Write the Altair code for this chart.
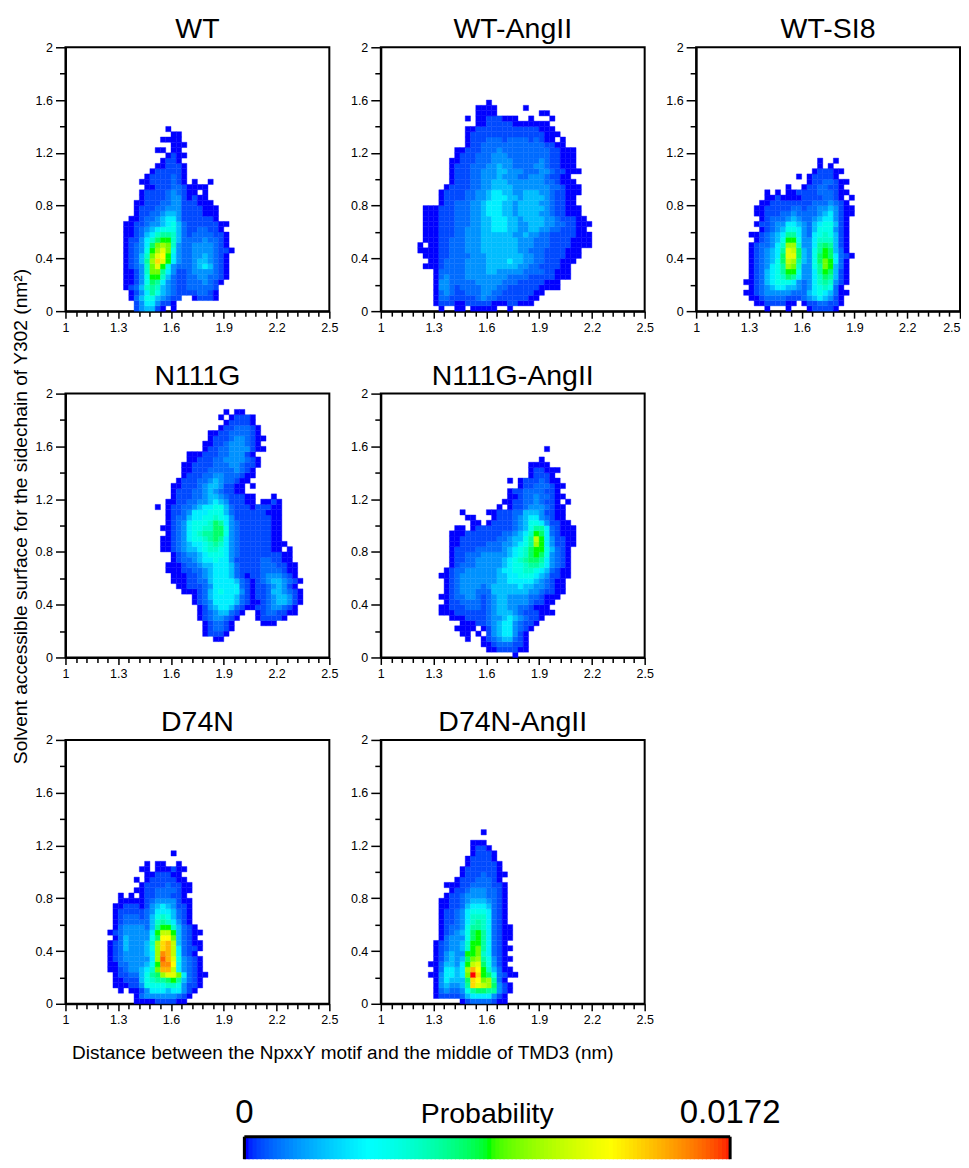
import altair as alt
import pandas as pd

FONT = "Liberation Sans"
P_MAX = 0.0172
X_MAJOR = [1, 1.3, 1.6, 1.9, 2.2, 2.5]
X_TICKS = [1, 1.06, 1.12, 1.18, 1.24, 1.3, 1.36, 1.42, 1.48, 1.54, 1.6, 1.66, 1.72, 1.78, 1.84, 1.9,
           1.96, 2.02, 2.08, 2.14, 2.2, 2.26, 2.32, 2.38, 2.44, 2.5]
Y_MAJOR = [0, 0.4, 0.8, 1.2, 1.6, 2]
Y_TICKS = [0, 0.2, 0.4, 0.6, 0.8, 1, 1.2, 1.4, 1.6, 1.8, 2]
COLORS = ["#0000ff", "#00ffff", "#00ff00", "#ffff00", "#ff0000"]
X_STEP = 0.03
Y_STEP = 0.04
# what a level character stands for, in twentieths of P_MAX (the blues are closely spaced)
LEVELS = [0, 0.6, 1.2, 2.0, 3.1, 4.5, 6, 7, 8, 9, 10, 11, 12, 13, 14, 15, 16, 17, 18, 19, 20]

# Rows run bottom-up; "col:levels" segments, level chars 0-k index LEVELS
WT = ["13:134410 20:0", "13:13553110", "12:0246643211 24:01110", "12:01358643211112210",
      "11:012478743211222221", "11:0013698532112223210", "11:00136aa7421122332210",
      "11:00137bb8531123333210", "11:01237bea632223454210", "11:01248cgea53223443210",
      "11:01247befa53223343210", "11:01236aceb632233332110", "11:012359bcb73223333210",
      "11:0113579aa74222232210", "11:00124578874212222110", "11:0012345666421122110",
      "11:00112334564211111100", "12:00122345531111110", "13:0112234431111000",
      "13:0111223331111000", "13:001112233111000", "14:0111123310100", "14:01111232100 26:0",
      "15:001112210000", "14:001111210 24:0 27:0", "15:01111210", "16:0111110", "17:001110",
      "18:0110", "19:0100", "17:00 20:00", "20:000", "18:0000", "20:00", "19:0"]

WT_ANGII = ["11:0 14:00 17:00000 24:0", "10:0111001111100011000", "10:02211111232211111100",
            "10:023211222332211111100", "10:033212222333221111110000", "10:033222223333322211111000",
            "10:02322233333333222211111000", "10:02222233334433333222211000",
            "8:0001222233334444443322111100", "9:0012222333344445443322111000",
            "8:000112222333444444433221111000", "7:0000112223334444444332221111000",
            "7:0 9:0011222333444444433322211110000", "8:00011222333444444433322211110000",
            "8:00011122333444444334332211111000", "8:0001112233344555443344332211100",
            "8:00011122233445554433444332211000", "8:0001112223344555443444433211100",
            "8:000111222334555443444433211000", "8:000111222334555443444443211000",
            "11:01122233455544344443321100", "11:01111223345554434444321100",
            "11:011112233455443344433211000", "12:01111223344443333333221000",
            "13:011122334443333333221000", "13:01112233343332233321100",
            "13:0111223334433322233211000", "13:011122233433222233211000",
            "13:001112223333222223211000", "14:01112223332222222211000",
            "14:00111222322222222211000", "16:0112222222222221100", "16:01112221222212100 34:0",
            "16:011111111111111000", "16:00111111111111000", "18:00111110000000",
            "16:0 18:00111000 28:0 32:0", "18:0000 30:00", "18:0000 27:0", "20:0"]

WT_SI8 = ["13:0 17:0 21:011110", "11:00111100 20:01122110", "10:001222211123454310",
          "9:00123333322245654200", "10:012345544323567620", "9:00124566653235787310",
          "10:0124567985335798410", "10:0124568aa63358a9410", "10:0123568cb73368ba420",
          "10:0123469dc84369ba520", "10:0123459ee94369a95210", "10:0123458ed94368a9420",
          "10:0122357cc7335898410", "11:012346aa6335777410", "10:0012345885325676410",
          "12:01234665324666310", "11:011233554324566410", "12:01222343223455310",
          "11:0011122322223453100", "11:0011111221223343100", "12:00111111112223210",
          "13:001000011112210 29:0", "13:0 15:0 17:001111222100", "17:0 20:01122110",
          "21:01122100", "19:0 21:011110", "22:011100", "23:0 25:0", "23:0 26:0"]

N111G = ["", "", "", "28:00", "26:01110", "26:012210", "26:012210 37:000",
         "25:01233210 36:011110", "25:012344210 36:01221100", "25:0134554210 35:011233210",
         "24:012355554210 36:012344310", "24:012455554210112344310", "22:00012456555310112443210",
         "21:00111235555521011234310", "20:0001122455554210123443210", "20:000112345554210112333210",
         "19:0001122345554211112222100", "19:0001223445554211112221100", "20:01223455655311111221100",
         "20:01233456665321111111100", "18:00123445677653211111100 42:0",
         "18:001234556787532111111000", "18:00123566789853211111100", "19:0123567889963211111100",
         "18:00123566779963211111100", "19:0123566679853211111100", "19:0122455667653111111100",
         "19:0112355566642111111000", "17:0 19:0112234556642111011100",
         "19:00112233454311100 37:0010", "20:0111223443211100 39:0", "20:01112234321100",
         "20:00111234431100 35:0", "21:01112234322100", "22:01112233222100", "22:00111222223210",
         "22:001111222332110", "23:00111223333210", "23:0001112233310", "26:011223333100",
         "26:00112333210", "27:01112332100", "27:0011222210", "29:01122210", "30:011110",
         "29:0 31:01110", "30:0 32:00"]

N111G_ANGII = ["25:0", "20:00111100", "19:001222110", "16:0 19:012344210", "15:00 18:0 20:13455310",
               "14:0000 19:0134553210", "15:000112345532110", "13:000111123345432110",
               "11:0001111112344432111000", "11:001112221234433221000", "12:011222212344333321100",
               "11:00122332123443333221000", "12:01233322244444443321100", "12:01233332344444544332100",
               "12:01233333334455555432100", "11:0012333333344556665431100",
               "12:012233333345566776542100", "13:01222333334566788753210",
               "13:01122333334567899853210", "13:0112223333345679a963210",
               "13:0111122222345679aa64210", "13:0011111222334568ca531100",
               "13:0011111112234468da531100", "13:0001111111223457a9521000",
               "14:00 17:01111111234688521000", "17:00 20:0111123466531100",
               "16:00 21:01112345532100", "15:0 20:001112244431100", "22:0 24:01123332100",
               "23:00112232110 35:0", "24:00122322100", "24:0112222110", "26:011222100",
               "24:0 26:01112100", "28:01110", "28:011000", "28:0000", "30:0", "", "31:0"]

D74N = ["13:0000111100", "13:02333333210", "10:0 12:0013555455310", "9:00011366667763110",
        "9:00111467889a84210", "9:011224689ceeb52100", "8:001233457bhhd53210",
        "8:002233346aiif53210", "8:012333335cjhe63210", "8:012333345cihd5210",
        "8:012433346cghd52110", "8:012433347cghd42100", "9:024333369ffb4210",
        "8:012333335adda42100", "9:023333248aa74210", "9:012222247875310", "9:012221246764210",
        "9:011111235554210", "9:001110134543110", "10:00000123333100", "10:0 12:0 14:011222110",
        "13:00112222100", "14:0111121100", "13:0 15:01111100", "15:0011100", "14:00 17:000100",
        "15:0 17:00 21:0", "", "20:0"]

D74N_ANGII = ["15:012222100", "10:01111245555310", "10:023223689988310", "10:0343348gedc9310",
              "10:0354449gfbc820", "9:0035545bkga962100", "10:025545chfa74200",
              "9:0024435ade96310", "10:0134349bc863100", "10:013433aab75210",
              "10:0123347ab852100", "10:0123347aa85210", "11:0233369a852100",
              "11:0123469a852100", "11:01223688752100", "11:0112357875210", "11:0112357775210",
              "11:0112356665210", "11:0011245554210", "11:0011234443210", "12:011233332210",
              "13:01123332210", "12:000112222110", "14:011122210", "15:011121100", "15:01111110",
              "16:0111110", "16:011110", "17:01110", "17:0110", "17:000", "", "19:0"]

NAMES = ["WT", "WT-AngII", "WT-SI8", "N111G", "N111G-AngII", "D74N", "D74N-AngII"]
GRIDS = [WT, WT_ANGII, WT_SI8, N111G, N111G_ANGII, D74N, D74N_ANGII]
BAR_STEPS = list(range(0, 120))
BAR_END_LABELS = ["0", "0.0172"]
BAR_END_X = [0, P_MAX]
BAR_TITLE = ["Probability"]
XLABEL = "Distance between the NpxxY motif and the middle of TMD3 (nm)"
YLABEL = "Solvent accessible surface for the sidechain of Y302 (nm\u00b2)"


def cells(rows):
    out = []
    for r, row in enumerate(rows):
        for seg in row.split():
            start, vals = seg.split(":")
            for i, ch in enumerate(vals):
                c = int(start) + i
                out.append({"x0": 1 + c * X_STEP, "x1": 1 + (c + 1) * X_STEP,
                            "y0": r * Y_STEP, "y1": (r + 1) * Y_STEP,
                            "p": LEVELS[int(ch, 36)] / 20 * P_MAX})
    return pd.DataFrame(out)


color_scale = alt.Scale(domain=[0, P_MAX * 0.25, P_MAX * 0.5, P_MAX * 0.75, P_MAX], range=COLORS)


def in_list(vals):
    return "indexof([" + ",".join(str(v) for v in vals) + "], datum.value) >= 0"


def panel(name, rows, xtitle=False, last_label_inside=False):
    x_axis = dict(values=X_TICKS, labelExpr=f"{in_list(X_MAJOR)} ? datum.label : ''",
                  format="~g", tickSize={"condition": {"test": in_list(X_MAJOR), "value": 7}, "value": 5},
                  labelFontSize=12.5, labelFont=FONT, labelColor="black", labelPadding=3, labelOverlap=False,
                  tickColor="black", tickWidth=1.5, domainColor="black", domainWidth=2, grid=False,
                  labelFlush=False, title=None)
    y_axis = dict(values=Y_TICKS, labelExpr=f"{in_list(Y_MAJOR)} ? datum.label : ''",
                  format="~g", tickSize={"condition": {"test": in_list(Y_MAJOR), "value": 10}, "value": 6},
                  labelFontSize=12.5, labelFont=FONT, labelColor="black", labelPadding=3, labelOverlap=False,
                  tickColor="black", tickWidth=1.5, domainColor="black", domainWidth=2, grid=False,
                  labelFlush=False, title=None)
    if last_label_inside:
        x_axis["labelAlign"] = {"condition": {"test": "datum.value == 2.5", "value": "right"}, "value": "center"}
    if xtitle:
        x_axis.update(title=XLABEL, titleFont=FONT, titleFontSize=19, titleFontWeight="normal", titleColor="black",
                      titleX=277, titleY=55, titleAlign="center", titleBaseline="alphabetic")
    return (
        alt.Chart(cells(rows))
        .mark_rect(strokeWidth=0.4)
        .encode(
            x=alt.X("x0:Q", scale=alt.Scale(domain=[1, 2.5], nice=False, zero=False), axis=alt.Axis(**x_axis)),
            x2="x1:Q",
            y=alt.Y("y0:Q", scale=alt.Scale(domain=[0, 2], nice=False, zero=False), axis=alt.Axis(**y_axis)),
            y2="y1:Q",
            color=alt.Color("p:Q", scale=color_scale, legend=None),
            stroke=alt.Stroke("p:Q", scale=color_scale, legend=None),
        )
        .properties(
            width=264, height=264,
            title=alt.TitleParams(name, font=FONT, fontSize=28.5, fontWeight="normal", color="black", offset=-2.5),
            view=alt.ViewBackground(stroke="black", strokeWidth=2),
        )
    )


blank = (
    alt.Chart(pd.DataFrame({"a": [0]}))
    .mark_point(opacity=0)
    .encode(x=alt.value(1), y=alt.value(1))
    .properties(width=264, height=264, view=alt.ViewBackground(strokeOpacity=0))
)
# the shared y title sits in the empty cell of the middle row and reaches back to the far left
ytitle_cell = (
    alt.Chart(pd.DataFrame({"t": [YLABEL]}))
    .mark_text(font=FONT, fontSize=19.2, angle=270, baseline="alphabetic", align="center", color="black")
    .encode(x=alt.value(-669), y=alt.value(123), text="t:N")
    .properties(width=264, height=264, view=alt.ViewBackground(strokeOpacity=0))
)

# colour bar: the panel is one column wide, the scale carries on past it
BAR_TOP = 50.5
BAR_BOTTOM = 73
bar_scale = alt.Scale(domain=[-179 / 486 * P_MAX, (264 - 179) / 486 * P_MAX], nice=False, zero=False)
bar_df = pd.DataFrame({"s": [i / 120 * P_MAX for i in BAR_STEPS], "e": [(i + 1.3) / 120 * P_MAX for i in BAR_STEPS]})
bar_df["e"] = bar_df["e"].clip(upper=P_MAX)
bar_x = alt.X("s:Q", scale=bar_scale, axis=None)
bar_cells = alt.Chart(bar_df).mark_rect().encode(
    x=bar_x, x2="e:Q", y=alt.value(BAR_TOP), y2=alt.value(BAR_BOTTOM),
    color=alt.Color("s:Q", scale=color_scale, legend=None),
)
bar_sides = alt.Chart(pd.DataFrame({"s": BAR_END_X})).mark_rule(color="black", strokeWidth=3).encode(
    x=bar_x, y=alt.value(BAR_TOP), y2=alt.value(BAR_BOTTOM)
)
bar_top = alt.Chart(pd.DataFrame({"s": [0], "e": [P_MAX]})).mark_rule(color="black", strokeWidth=3).encode(
    x=bar_x, x2="e:Q", y=alt.value(BAR_TOP)
)
bar_ends = alt.Chart(pd.DataFrame({"s": BAR_END_X, "t": BAR_END_LABELS})).mark_text(
    font=FONT, fontSize=33, baseline="alphabetic", color="black"
).encode(x=bar_x, y=alt.value(37), text="t:N")
bar_name = alt.Chart(pd.DataFrame({"s": [P_MAX / 2], "t": BAR_TITLE})).mark_text(
    font=FONT, fontSize=28.5, baseline="alphabetic", color="black"
).encode(x=bar_x, y=alt.value(37), text="t:N")
bar = alt.layer(bar_cells, bar_sides, bar_top, bar_ends, bar_name).properties(
    width=264, height=BAR_BOTTOM, view=alt.ViewBackground(strokeOpacity=0)
)

charts = [
    panel(NAMES[0], GRIDS[0]), panel(NAMES[1], GRIDS[1]), panel(NAMES[2], GRIDS[2], last_label_inside=True),
    panel(NAMES[3], GRIDS[3]), panel(NAMES[4], GRIDS[4]), ytitle_cell,
    panel(NAMES[5], GRIDS[5], xtitle=True), panel(NAMES[6], GRIDS[6]), blank,
    bar,
]

chart = alt.concat(*charts, columns=3, spacing=alt.RowColnumber(row=82.5, column=51.5), bounds="flush").properties(
    padding={"left": 4.5, "top": 6, "right": -1, "bottom": 0}, background="white"
)

chart.save("out.html", embed_options={"renderer": "svg", "actions": False})
